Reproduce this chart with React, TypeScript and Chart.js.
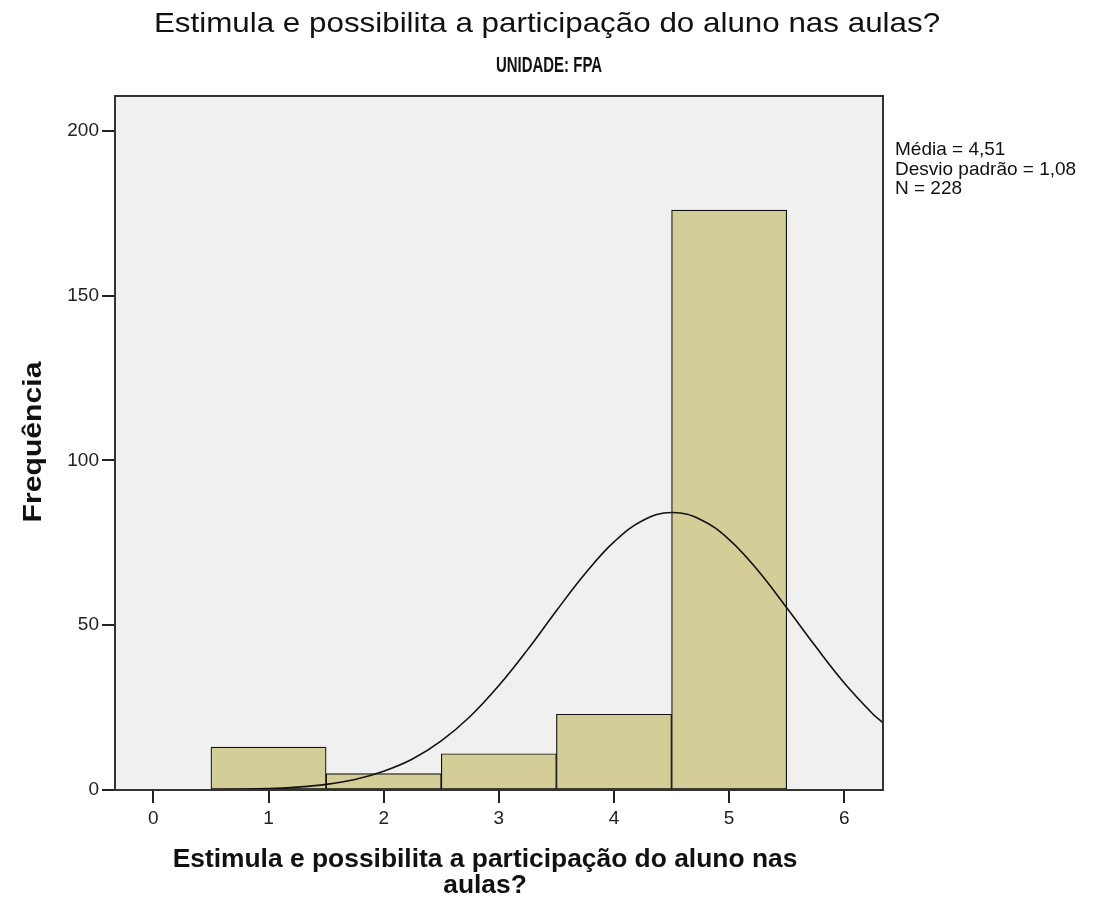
import React, { useEffect, useRef } from "react";
import { Chart, registerables } from "chart.js";

Chart.register(...registerables);

const title = "Estimula e possibilita a participação do aluno nas aulas?";
const subtitle = "UNIDADE: FPA";
const yTitle = "Frequência";
const xTitleLines = ["Estimula e possibilita a participação do aluno nas", "aulas?"];
const statsLines = ["Média = 4,51", "Desvio padrão = 1,08", "N = 228"];

const binCenters = [1, 2, 3, 4, 5];
const binCounts = [13, 5, 11, 23, 176];

const curveX = [-0.333, 0, 0.5, 1, 1.25, 1.5, 1.75, 2, 2.25, 2.5, 2.75, 3, 3.25, 3.5, 3.75, 4, 4.25, 4.5, 4.75, 5, 5.25, 5.5, 5.75, 6, 6.25, 6.336];
const curveY = [0.0, 0.01, 0.09, 0.43, 0.88, 1.7, 3.2, 5.7, 9.4, 14.9, 22.3, 31.7, 42.6, 54.4, 65.7, 75.3, 81.8, 84.2, 82.1, 76.0, 66.6, 55.3, 43.6, 32.5, 23.0, 20.4];

const xTicks = [0, 1, 2, 3, 4, 5, 6];
const yTicks = [0, 50, 100, 150, 200];

const FONT = "'Liberation Sans', Arial, sans-serif";

function stretchText(ctx: CanvasRenderingContext2D, text: string, x: number, y: number, sx: number, align: CanvasTextAlign) {
  ctx.save();
  ctx.translate(x, y);
  ctx.scale(sx, 1);
  ctx.textAlign = align;
  ctx.fillText(text, 0, 0);
  ctx.restore();
}

export default function App() {
  const ref = useRef<HTMLCanvasElement>(null);
  useEffect(() => {
    const canvas = ref.current!;
    const decor = {
      id: "decor",
      beforeDraw(chart: any) {
        const { ctx, chartArea: a } = chart;
        ctx.save();
        ctx.fillStyle = "#ffffff";
        ctx.fillRect(0, 0, chart.width, chart.height);
        ctx.fillStyle = "#f0f0f0";
        ctx.fillRect(a.left, a.top, a.right - a.left, a.bottom - a.top);
        ctx.restore();
      },
      afterDraw(chart: any) {
        const { ctx, chartArea: a } = chart;
        ctx.save();
        ctx.strokeStyle = "#333333";
        ctx.lineWidth = 2;
        ctx.strokeRect(a.left, a.top, a.right - a.left, a.bottom - a.top);
        ctx.fillStyle = "#111111";
        ctx.textBaseline = "alphabetic";
        ctx.font = `28px ${FONT}`;
        stretchText(ctx, title, 547, 32, 1.12, "center");
        ctx.font = `bold 22px ${FONT}`;
        stretchText(ctx, subtitle, 549, 72, 0.68, "center");
        ctx.font = `bold 26px ${FONT}`;
        stretchText(ctx, xTitleLines[0], 485, 867, 1.015, "center");
        stretchText(ctx, xTitleLines[1], 485, 893, 1.015, "center");
        ctx.save();
        ctx.translate(41, 442);
        ctx.rotate(-Math.PI / 2);
        stretchText(ctx, yTitle, 0, 0, 1.16, "center");
        ctx.restore();
        ctx.font = `19px ${FONT}`;
        statsLines.forEach((s, i) => stretchText(ctx, s, 895, 155 + i * 19.5, 1.0, "left"));
        ctx.restore();
      },
    };
    const chart = new Chart(canvas, {
      type: "bar",
      data: {
        datasets: [
          {
            type: "line",
            data: curveX.map((x, i) => ({ x, y: curveY[i] })),
            borderColor: "#111111",
            borderWidth: 1.6,
            pointRadius: 0,
            tension: 0.4,
            fill: false,
            order: 0,
          } as any,
          {
            type: "bar",
            data: binCenters.map((x, i) => ({ x, y: binCounts[i] })),
            backgroundColor: "#d3ce98",
            borderColor: "#111111",
            borderWidth: 1.2,
            borderSkipped: false,
            barPercentage: 1,
            categoryPercentage: 1,
            order: 1,
          } as any,
        ],
      },
      options: {
        animation: false,
        responsive: false,
        layout: { padding: { top: 96, right: 211, left: 0, bottom: 0 } },
        plugins: { legend: { display: false }, tooltip: { enabled: false }, title: { display: false } },
        scales: {
          x: {
            type: "linear",
            offset: false,
            min: -1 / 3,
            max: 6.336,
            afterBuildTicks: (s: any) => { s.ticks = xTicks.map((v) => ({ value: v })); },
            afterFit: (s: any) => { s.height = 109; },
            grid: { display: true, offset: false, drawOnChartArea: false, drawTicks: true, tickLength: 13, color: "#222222", lineWidth: 2 },
            border: { display: false },
            ticks: { color: "#222222", font: { family: FONT, size: 19 }, padding: 4, maxRotation: 0 },
          },
          y: {
            type: "linear",
            min: 0,
            max: 210.6,
            afterBuildTicks: (s: any) => { s.ticks = yTicks.map((v) => ({ value: v })); },
            afterFit: (s: any) => { s.width = 115; },
            grid: { display: true, drawOnChartArea: false, drawTicks: true, tickLength: 13, color: "#222222", lineWidth: 2 },
            border: { display: false },
            ticks: { color: "#222222", font: { family: FONT, size: 19 }, padding: 3 },
          },
        },
      },
      plugins: [decor],
    } as any);
    return () => chart.destroy();
  }, []);
  return (
    <div style={{ position: "absolute", left: 0, top: 0, width: 1094, height: 899 }}>
      <canvas ref={ref} width={1094} height={899} style={{ width: 1094, height: 899 }} />
    </div>
  );
}
